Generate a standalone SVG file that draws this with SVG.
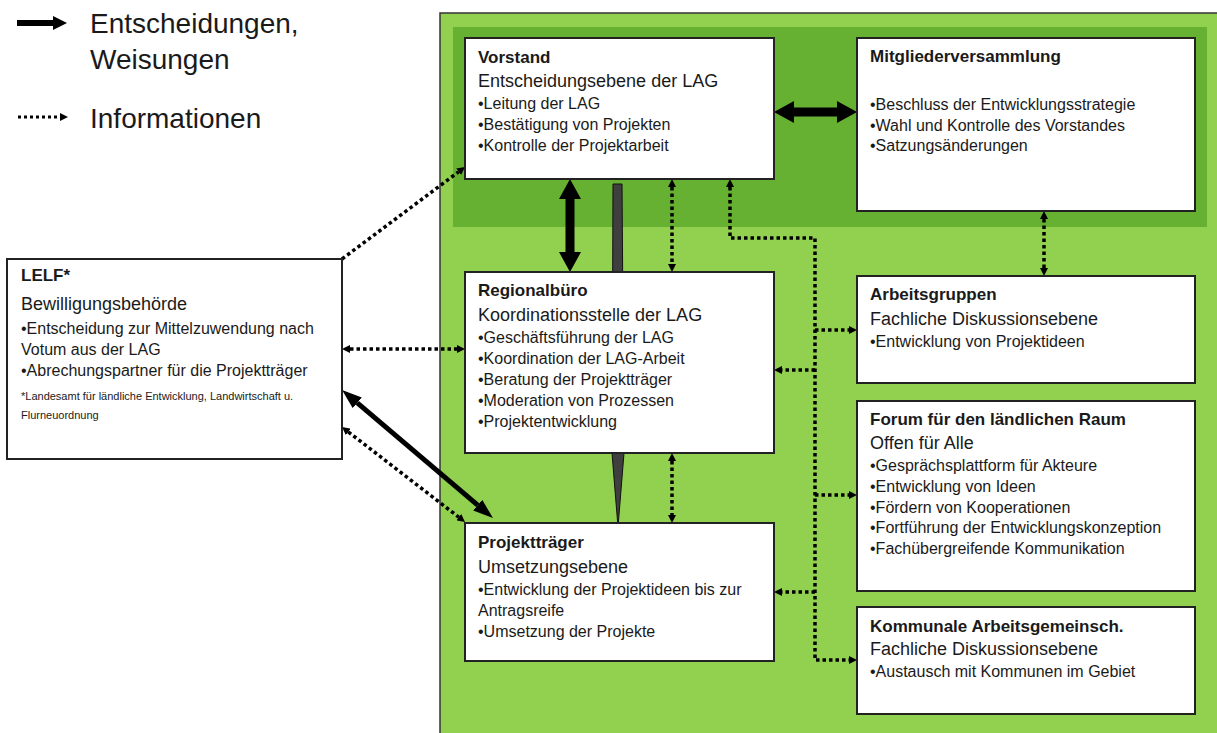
<svg xmlns="http://www.w3.org/2000/svg" width="1217" height="733" viewBox="0 0 1217 733">
<style>
text{font-family:"Liberation Sans",Arial,sans-serif;fill:#1a1a1a}
.t{font-weight:bold;font-size:17px}
.s{font-size:18px}
.b{font-size:16px}
.fn{font-size:11px}
.lg{font-size:28px}
.box{fill:#fff;stroke:#222;stroke-width:2}
.dot{fill:none;stroke:#000;stroke-width:3.5;stroke-dasharray:3.5 3}
.thick{fill:none;stroke:#000;stroke-width:9}
.med{fill:none;stroke:#000;stroke-width:5}
</style>
<defs>
<marker id="hb" viewBox="0 -11 20 22" refX="0" refY="0" markerWidth="20" markerHeight="22" markerUnits="userSpaceOnUse" orient="auto-start-reverse"><path d="M0,-11 L20,0 L0,11 z" fill="#000"/></marker>
<marker id="hm" viewBox="0 -7 20 14" refX="0" refY="0" markerWidth="20" markerHeight="14" markerUnits="userSpaceOnUse" orient="auto-start-reverse"><path d="M0,-7 L20,0 L0,7 z" fill="#000"/></marker>
<marker id="hd" viewBox="0 -4 8 8" refX="0" refY="0" markerWidth="8" markerHeight="8" markerUnits="userSpaceOnUse" orient="auto-start-reverse"><path d="M0,-4 L8,0 L0,4 z" fill="#000"/></marker>
<marker id="hl" viewBox="0 -7 14 14" refX="0" refY="0" markerWidth="14" markerHeight="14" markerUnits="userSpaceOnUse" orient="auto-start-reverse"><path d="M0,-7 L14,0 L0,7 z" fill="#000"/></marker>
</defs>

<g id="legend">
<line x1="17" y1="23" x2="53" y2="23" stroke="#000" stroke-width="6" marker-end="url(#hl)"/>
<text class="lg" x="90" y="33">Entscheidungen,</text>
<text class="lg" x="90" y="69">Weisungen</text>
<line x1="18" y1="117" x2="60" y2="117" stroke="#000" stroke-width="3" stroke-dasharray="3 3" marker-end="url(#hd)"/>
<text class="lg" x="90" y="128">Informationen</text>
</g>

<g id="lag-area">
<rect x="440" y="13" width="800" height="730" fill="#92D050" stroke="#333" stroke-width="1.5"/>
<rect x="453" y="27" width="754" height="200" fill="#66B032"/>
</g>

<g id="wedge">
<polygon points="613,184 622,184 624,453 618,527 612,453" fill="#3f3f3f" stroke="#111" stroke-width="1"/>
</g>

<g id="connectors">
<line class="thick" x1="794" y1="112" x2="837" y2="112" marker-start="url(#hb)" marker-end="url(#hb)"/>
<line class="thick" x1="570" y1="199" x2="570" y2="252" marker-start="url(#hb)" marker-end="url(#hb)"/>
<line class="med" x1="357.3" y1="402.9" x2="477.7" y2="505.1" marker-start="url(#hm)" marker-end="url(#hm)"/>
<line class="dot" x1="672" y1="187" x2="672" y2="264" marker-start="url(#hd)" marker-end="url(#hd)"/>
<line class="dot" x1="1044" y1="219" x2="1044" y2="268" marker-start="url(#hd)" marker-end="url(#hd)"/>
<line class="dot" x1="672" y1="461" x2="672" y2="515" marker-start="url(#hd)" marker-end="url(#hd)"/>
<path class="dot" d="M730,187 L730,238 L815,238 L815,660 L849,660" marker-start="url(#hd)" marker-end="url(#hd)"/>
<line class="dot" x1="815" y1="330" x2="849" y2="330" marker-end="url(#hd)"/>
<line class="dot" x1="815" y1="370" x2="782" y2="370" marker-end="url(#hd)"/>
<line class="dot" x1="815" y1="495" x2="849" y2="495" marker-end="url(#hd)"/>
<line class="dot" x1="815" y1="592" x2="782" y2="592" marker-end="url(#hd)"/>
<line class="dot" x1="350" y1="349" x2="457" y2="349" marker-start="url(#hd)" marker-end="url(#hd)"/>
<line class="dot" x1="342" y1="259" x2="458.6" y2="171.8" marker-end="url(#hd)"/>
<line class="dot" x1="348.3" y1="431.9" x2="458.7" y2="517.1" marker-start="url(#hd)" marker-end="url(#hd)"/>
</g>

<g id="vorstand">
<rect class="box" x="465" y="38" width="309" height="141"/>
<text class="t" x="478" y="63">Vorstand</text>
<text class="s" x="478" y="87">Entscheidungsebene der LAG</text>
<text class="b" x="478" y="109">•Leitung der LAG</text>
<text class="b" x="478" y="130">•Bestätigung von Projekten</text>
<text class="b" x="478" y="151">•Kontrolle der Projektarbeit</text>
</g>

<g id="mitglieder">
<rect class="box" x="857" y="38" width="338" height="173"/>
<text class="t" x="870" y="62">Mitgliederversammlung</text>
<text class="b" x="870" y="110">•Beschluss der Entwicklungsstrategie</text>
<text class="b" x="870" y="131">•Wahl und Kontrolle des Vorstandes</text>
<text class="b" x="870" y="151">•Satzungsänderungen</text>
</g>

<g id="lelf">
<rect class="box" x="7" y="259" width="335" height="200"/>
<text class="t" x="21" y="281">LELF*</text>
<text class="s" x="21" y="310">Bewilligungsbehörde</text>
<text class="b" x="21" y="334">•Entscheidung zur Mittelzuwendung nach</text>
<text class="b" x="21" y="355">Votum aus der LAG</text>
<text class="b" x="21" y="376">•Abrechungspartner für die Projektträger</text>
<text class="fn" x="21" y="400">*Landesamt für ländliche Entwicklung, Landwirtschaft u.</text>
<text class="fn" x="21" y="419">Flurneuordnung</text>
</g>

<g id="regionalbuero">
<rect class="box" x="465" y="272" width="309" height="181"/>
<text class="t" x="478" y="296">Regionalbüro</text>
<text class="s" x="478" y="321">Koordinationsstelle der LAG</text>
<text class="b" x="478" y="343">•Geschäftsführung der LAG</text>
<text class="b" x="478" y="364">•Koordination der LAG-Arbeit</text>
<text class="b" x="478" y="385">•Beratung der Projektträger</text>
<text class="b" x="478" y="406">•Moderation von Prozessen</text>
<text class="b" x="478" y="427">•Projektentwicklung</text>
</g>

<g id="projekttraeger">
<rect class="box" x="465" y="523" width="309" height="138"/>
<text class="t" x="478" y="548">Projektträger</text>
<text class="s" x="478" y="573">Umsetzungsebene</text>
<text class="b" x="478" y="595">•Entwicklung der Projektideen bis zur</text>
<text class="b" x="478" y="616">Antragsreife</text>
<text class="b" x="478" y="637">•Umsetzung der Projekte</text>
</g>

<g id="arbeitsgruppen">
<rect class="box" x="857" y="276" width="338" height="107"/>
<text class="t" x="870" y="300">Arbeitsgruppen</text>
<text class="s" x="870" y="325">Fachliche Diskussionsebene</text>
<text class="b" x="870" y="347">•Entwicklung von Projektideen</text>
</g>

<g id="forum">
<rect class="box" x="857" y="401" width="338" height="190"/>
<text class="t" x="870" y="425">Forum für den ländlichen Raum</text>
<text class="s" x="870" y="449">Offen für Alle</text>
<text class="b" x="870" y="471">•Gesprächsplattform für Akteure</text>
<text class="b" x="870" y="492">•Entwicklung von Ideen</text>
<text class="b" x="870" y="513">•Fördern von Kooperationen</text>
<text class="b" x="870" y="533">•Fortführung der Entwicklungskonzeption</text>
<text class="b" x="870" y="554">•Fachübergreifende Kommunikation</text>
</g>

<g id="kommunale">
<rect class="box" x="857" y="607" width="338" height="107"/>
<text class="t" x="870" y="632">Kommunale Arbeitsgemeinsch.</text>
<text class="s" x="870" y="655">Fachliche Diskussionsebene</text>
<text class="b" x="870" y="677">•Austausch mit Kommunen im Gebiet</text>
</g>
</svg>
